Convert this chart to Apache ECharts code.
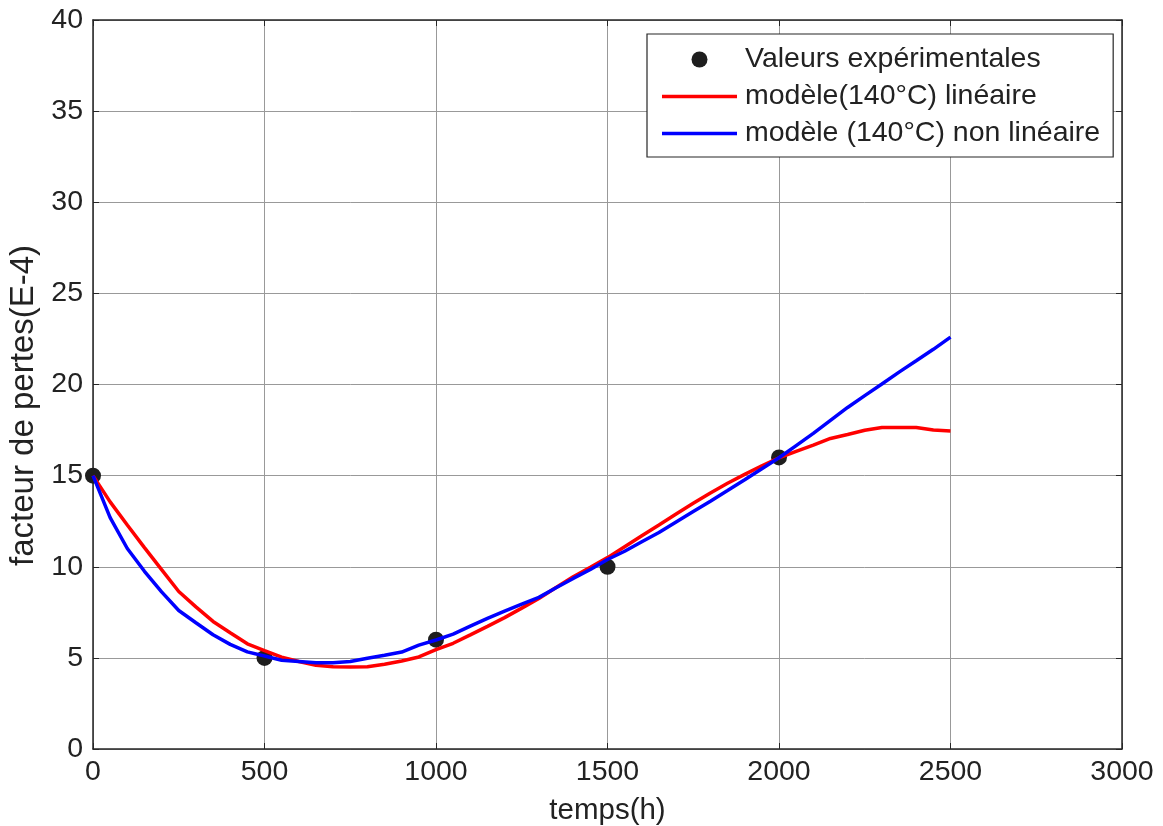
<!DOCTYPE html>
<html>
<head>
<meta charset="utf-8">
<script src="https://cdn.jsdelivr.net/npm/echarts@6/dist/echarts.min.js"></script>
<style>
  html, body { margin: 0; padding: 0; background: #fff; }
  #chart { width: 1163px; height: 826px; }
</style>
</head>
<body>
<div id="chart"></div>
<script>
// Loss factor (E-4) versus ageing time (h)
const expTimes = [0, 500, 1000, 1500, 2000];
const expValues = [15, 5, 6, 10, 16];

const modelTimes = [0, 50, 100, 150, 200, 250, 300, 350, 400, 450, 500, 550, 600, 650, 700, 750, 800, 850, 900, 950,
  1000, 1050, 1100, 1150, 1200, 1250, 1300, 1350, 1400, 1450, 1500, 1550, 1600, 1650, 1700, 1750, 1800, 1850, 1900, 1950,
  2000, 2050, 2100, 2150, 2200, 2250, 2300, 2350, 2400, 2450, 2500];

const linearModel = [15.0, 13.56, 12.29, 11.05, 9.84, 8.64, 7.8, 7.0, 6.38, 5.77, 5.4, 5.04, 4.8, 4.6, 4.51, 4.5, 4.51, 4.65, 4.83, 5.05,
  5.45, 5.8, 6.26, 6.73, 7.21, 7.73, 8.26, 8.86, 9.45, 9.97, 10.5, 11.1, 11.7, 12.29, 12.89, 13.48, 14.05, 14.58, 15.07, 15.54,
  15.98, 16.33, 16.67, 17.04, 17.26, 17.49, 17.64, 17.64, 17.64, 17.5, 17.45];

const nonlinearModel = [15.0, 12.7, 11.0, 9.75, 8.62, 7.6, 6.93, 6.27, 5.74, 5.33, 5.1, 4.87, 4.8, 4.73, 4.73, 4.8, 4.98, 5.14, 5.32, 5.7,
  5.98, 6.3, 6.74, 7.17, 7.56, 7.95, 8.32, 8.85, 9.36, 9.85, 10.4, 10.85, 11.37, 11.88, 12.46, 13.03, 13.6, 14.18, 14.77, 15.38,
  15.98, 16.65, 17.32, 18.03, 18.74, 19.39, 20.03, 20.68, 21.3, 21.93, 22.6];

const xTicks = { min: 0, max: 3000, interval: 500 };
const yTicks = { min: 0, max: 40, interval: 5 };

const legendNames = ['Valeurs expérimentales', 'modèle(140°C) linéaire', 'modèle (140°C) non linéaire'];

const pairs = (xs, ys) => xs.map((x, i) => [x, ys[i]]);

const FONT = 'Liberation Sans, Arial, sans-serif';
const INK = '#262626';
// legend swatch: a 75x16 box holding a centred 3.5px stroke
const LINE_ICON = 'path://M0,0 M75,16 M0,6.25 L75,6.25 L75,9.75 L0,9.75 Z';

const chart = echarts.init(document.getElementById('chart'), null, { renderer: 'canvas' });

// top and right edges of the box, ticks only
const frameAxis = {
  type: 'value',
  axisLine: { show: true, onZero: false, lineStyle: { color: INK, width: 1.5 } },
  axisTick: { show: true, inside: true, length: 6, lineStyle: { color: INK } },
  axisLabel: { show: false },
  splitLine: { show: false }
};

chart.setOption({
  animation: false,
  backgroundColor: '#ffffff',
  grid: {
    left: 93, right: 41, top: 20, bottom: 77,
    outerBoundsMode: 'none',
    containLabel: false,
    show: false
  },
  legend: {
    left: 647, top: 34,
    orient: 'vertical',
    backgroundColor: '#fff',
    borderColor: INK, borderWidth: 1.2,
    padding: [11, 13, 9, 15],
    itemGap: 8,
    itemWidth: 75, itemHeight: 16,
    textStyle: { fontFamily: FONT, fontSize: 28.5, color: '#222', padding: [0, 0, 0, 3] },
    data: [
      { name: legendNames[0], icon: 'circle' },
      { name: legendNames[1], icon: LINE_ICON },
      { name: legendNames[2], icon: LINE_ICON }
    ]
  },
  xAxis: [
    {
      type: 'value',
      min: xTicks.min, max: xTicks.max, interval: xTicks.interval,
      name: 'temps(h)', nameLocation: 'middle', nameGap: 47,
      nameTextStyle: { fontFamily: FONT, fontSize: 29.5, color: '#222' },
      axisLine: { show: true, onZero: false, lineStyle: { color: INK, width: 1.5 } },
      axisTick: { show: true, inside: true, length: 6, lineStyle: { color: INK } },
      axisLabel: { fontFamily: FONT, fontSize: 28.5, color: '#222', margin: 9, formatter: v => String(v) },
      splitLine: { show: true, lineStyle: { color: '#999999', width: 1 } }
    },
    Object.assign({}, frameAxis, {
      position: 'top', min: xTicks.min, max: xTicks.max, interval: xTicks.interval
    })
  ],
  yAxis: [
    {
      type: 'value',
      min: yTicks.min, max: yTicks.max, interval: yTicks.interval,
      name: 'facteur de pertes(E-4)', nameLocation: 'middle', nameGap: 47, nameRotate: 90,
      nameTextStyle: { fontFamily: FONT, fontSize: 33, color: '#222', padding: [0, 42, 0, 0] },
      axisLine: { show: true, onZero: false, lineStyle: { color: INK, width: 1.5 } },
      axisTick: { show: true, inside: true, length: 6, lineStyle: { color: INK } },
      axisLabel: { fontFamily: FONT, fontSize: 28.5, color: '#222', margin: 10 },
      splitLine: { show: true, lineStyle: { color: '#999999', width: 1 } }
    },
    Object.assign({}, frameAxis, {
      position: 'right', min: yTicks.min, max: yTicks.max, interval: yTicks.interval
    })
  ],
  series: [
    {
      name: legendNames[1],
      type: 'line',
      data: pairs(modelTimes, linearModel),
      showSymbol: false, symbol: 'none',
      lineStyle: { color: '#ff0000', width: 3.5 },
      itemStyle: { color: '#ff0000' },
      z: 3
    },
    {
      name: legendNames[2],
      type: 'line',
      data: pairs(modelTimes, nonlinearModel),
      showSymbol: false, symbol: 'none',
      lineStyle: { color: '#0000ff', width: 3.5 },
      itemStyle: { color: '#0000ff' },
      z: 4
    },
    {
      name: legendNames[0],
      type: 'scatter',
      data: pairs(expTimes, expValues),
      symbol: 'circle', symbolSize: 16,
      itemStyle: { color: '#1e1e1e', opacity: 1 },
      z: 2
    }
  ]
});
</script>
</body>
</html>
